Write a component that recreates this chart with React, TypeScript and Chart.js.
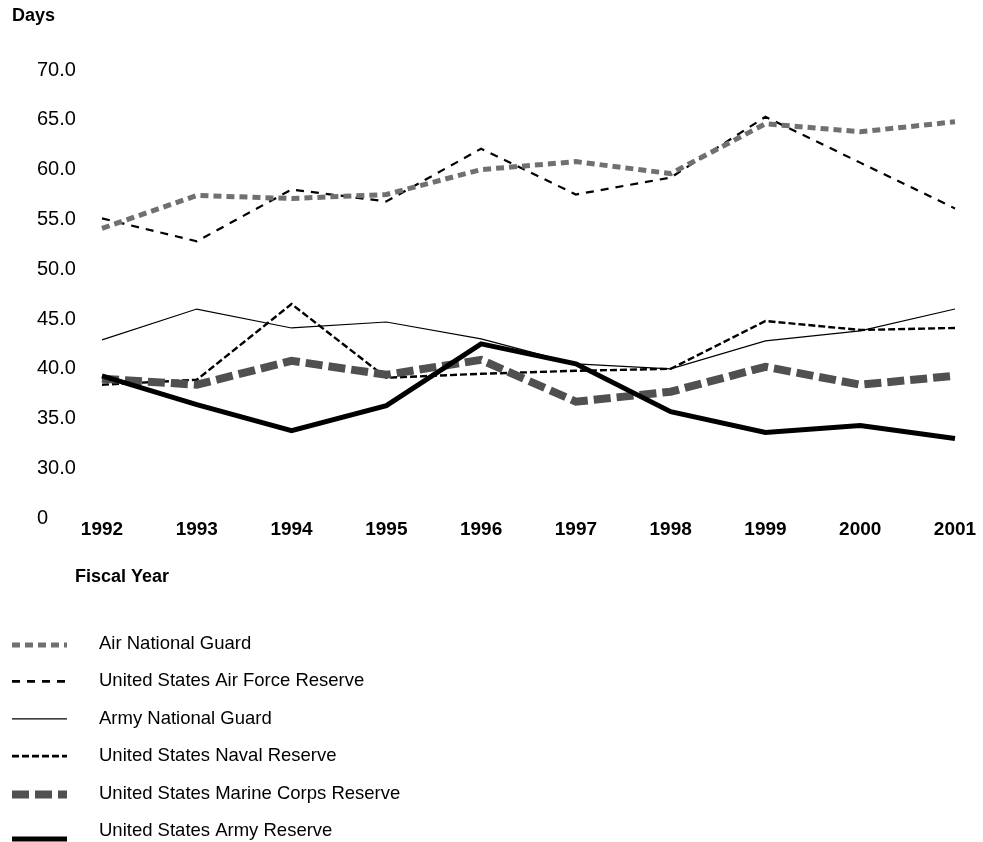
import React, { useEffect, useRef } from "react";
import { Chart, registerables } from "chart.js";

Chart.register(...registerables);

const years = ["1992", "1993", "1994", "1995", "1996", "1997", "1998", "1999", "2000", "2001"];

const airNationalGuard = [54.1, 57.4, 57.1, 57.5, 60.0, 60.8, 59.6, 64.6, 63.8, 64.8];
const airForceReserve = [55.1, 52.8, 58.0, 56.8, 62.1, 57.5, 59.2, 65.3, 60.7, 56.1];
const armyNationalGuard = [42.9, 46.0, 44.1, 44.7, 43.0, 40.5, 40.0, 42.8, 43.8, 46.0];
const navalReserve = [38.4, 38.9, 46.5, 39.1, 39.5, 39.8, 40.0, 44.8, 43.9, 44.1];
const marineCorpsReserve = [39.0, 38.4, 40.8, 39.4, 40.9, 36.7, 37.7, 40.2, 38.4, 39.3];
const armyReserve = [39.3, 36.4, 33.8, 36.3, 42.5, 40.5, 35.7, 33.6, 34.3, 33.0];

const seriesLabels = [
  "Air National Guard",
  "United States Air Force Reserve",
  "Army National Guard",
  "United States Naval Reserve",
  "United States Marine Corps Reserve",
  "United States Army Reserve",
];

// broken axis: the bottom tick (25 on the scale) is labelled "0"
const yMin = 25;
const yMax = 70;
const yStep = 5;
const yTitle = "Days";
const xTitle = "Fiscal Year";

const FONT = "'Liberation Sans', Arial, Helvetica, sans-serif";

const styles = [
  { color: "#707070", width: 5, dash: [8, 5] },
  { color: "#000000", width: 2.2, dash: [8, 7] },
  { color: "#000000", width: 1.2, dash: [] as number[] },
  { color: "#000000", width: 2.4, dash: [7, 3] },
  { color: "#505050", width: 8, dash: [17, 6] },
  { color: "#000000", width: 5, dash: [] as number[] },
];

const legendSampleOffset = [1, 0, 0, 0, 1, 8];

const decorPlugin = {
  id: "decor",
  afterDraw(chart: any) {
    const ctx = chart.ctx as CanvasRenderingContext2D;
    ctx.save();
    ctx.fillStyle = "#000";
    ctx.textBaseline = "middle";
    ctx.textAlign = "left";
    ctx.font = `bold 18px ${FONT}`;
    ctx.fillText(yTitle, 12, 16);
    ctx.fillText(xTitle, 75, 577);

    const ds = chart.data.datasets;
    const startY = 644;
    const gap = 37.4;
    ds.forEach((d: any, i: number) => {
      const y = startY + i * gap;
      ctx.beginPath();
      ctx.strokeStyle = d.borderColor;
      ctx.lineWidth = Math.max(1.3, i === 1 || i === 3 ? 2.8 : d.borderWidth);
      ctx.setLineDash(d.borderDash || []);
      ctx.lineCap = "butt";
      const sy = y + legendSampleOffset[i];
      ctx.moveTo(12, sy);
      ctx.lineTo(67, sy);
      ctx.stroke();
      ctx.setLineDash([]);
      ctx.font = `18.5px ${FONT}`;
      ctx.fillStyle = "#000";
      ctx.fillText(d.label, 99, y);
    });
    ctx.restore();
  },
};

export default function App() {
  const ref = useRef<HTMLCanvasElement | null>(null);

  useEffect(() => {
    if (!ref.current) return;
    const values = [
      airNationalGuard,
      airForceReserve,
      armyNationalGuard,
      navalReserve,
      marineCorpsReserve,
      armyReserve,
    ];
    const drawOrder = [4, 5, 3, 2, 1, 0];
    const chart = new Chart(ref.current, {
      type: "line",
      data: {
        labels: years,
        datasets: values.map((v, i) => ({
          label: seriesLabels[i],
          data: v,
          borderColor: styles[i].color,
          backgroundColor: styles[i].color,
          borderWidth: styles[i].width,
          borderDash: styles[i].dash,
          pointRadius: 0,
          tension: 0,
          fill: false,
          order: drawOrder[i],
          borderJoinStyle: "miter" as const,
        })),
      },
      options: {
        responsive: false,
        animation: false,
        devicePixelRatio: 1,
        layout: { padding: { top: 70, right: 28, bottom: 301, left: 37 } },
        plugins: {
          legend: { display: false },
          tooltip: { enabled: false },
        },
        scales: {
          x: {
            type: "category",
            offset: false,
            grid: { display: false, drawTicks: false },
            border: { display: false },
            ticks: {
              color: "#000",
              font: { family: FONT, size: 19, weight: "bold" },
              padding: 0,
              maxRotation: 0,
              autoSkip: false,
            },
          },
          y: {
            min: yMin,
            max: yMax,
            grid: { display: false, drawTicks: false },
            border: { display: false },
            afterFit: (scale: any) => {
              scale.width = 65;
            },
            ticks: {
              stepSize: yStep,
              color: "#000",
              font: { family: FONT, size: 20 },
              padding: 25,
              crossAlign: "far",
              callback: (v: any) => (Number(v) === yMin ? "0" : Number(v).toFixed(1)),
            },
          },
        },
      },
      plugins: [decorPlugin],
    });
    return () => chart.destroy();
  }, []);

  return (
    <div style={{ position: "fixed", left: 0, top: 0, width: 983, height: 842, background: "#fff" }}>
      <canvas ref={ref} width={983} height={842} style={{ display: "block" }} />
    </div>
  );
}
